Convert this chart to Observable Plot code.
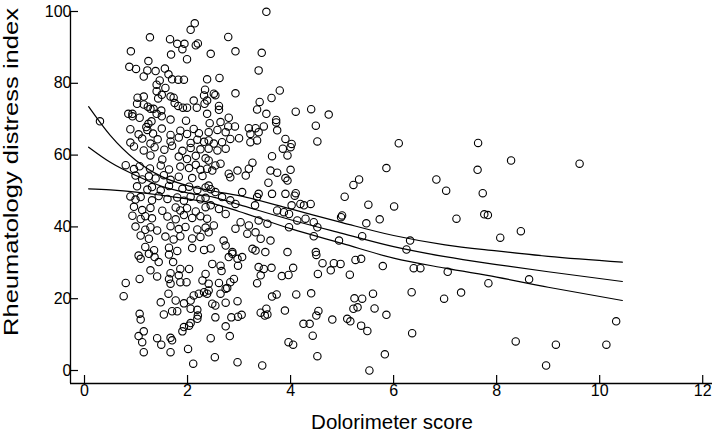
<!DOCTYPE html>
<html><head><meta charset="utf-8">
<script src="https://cdn.jsdelivr.net/npm/d3@7"></script>
<script src="https://cdn.jsdelivr.net/npm/@observablehq/plot@0.6"></script>
<style>body{margin:0;background:#fff} #chart svg{display:block}</style>
</head><body><div id="chart"></div>
<script>
// Dolorimeter score (x) and Rheumatology distress index (y)
const dolorimeter = [
 2.14,2.06,1.27,1.66,1.80,1.94,1.90,2.16,2.20,0.90,
 1.68,2.45,1.99,1.24,0.87,1.00,1.22,1.38,1.56,1.15,
 1.63,1.70,1.82,1.93,1.46,1.40,1.57,2.38,1.40,1.50,
 1.43,1.67,1.73,1.75,1.82,2.34,2.32,2.38,2.33,1.03,
 1.15,1.02,1.15,1.23,1.28,2.12,1.91,1.99,2.18,0.85,
 0.93,0.93,1.07,1.34,1.40,1.49,1.50,1.30,1.24,1.20,
 1.67,1.97,2.38,0.30,
 3.53,2.79,2.93,3.44,3.38,2.62,2.51,2.54,2.93,3.79,
 3.63,3.40,3.35,3.53,2.61,2.61,4.10,4.40,4.74,4.49,
 3.72,3.72,2.80,2.64,2.79,2.92,3.19,3.32,3.48,2.43,
 2.58,
 0.89,1.05,1.22,1.33,1.50,1.67,1.86,1.99,2.12,2.22,
 0.89,1.12,1.28,1.42,1.67,1.83,2.06,2.19,2.32,
 0.96,1.15,1.36,1.55,1.70,1.90,2.06,2.25,
 1.28,1.51,1.83,1.99,2.16,2.35,
 0.80,0.96,1.07,1.27,1.48,1.64,1.86,2.03,2.16,2.25,
 0.99,1.12,1.25,1.38,1.54,1.67,1.83,2.09,2.29,
 1.02,1.22,1.31,1.48,1.64,1.90,2.03,2.19,2.35,2.45,
 0.89,0.99,1.09,1.31,1.44,1.61,1.80,1.93,2.06,2.25,2.35,
 0.96,1.12,1.28,1.51,1.77,1.86,1.99,2.16,2.35,
 0.93,1.09,1.18,1.31,1.61,1.77,1.93,2.09,2.25,2.38,
 0.99,1.18,1.28,1.41,1.67,1.83,1.96,2.19,2.35,
 1.09,1.25,1.57,1.73,1.86,2.09,2.25,
 1.18,1.35,1.64,1.80,2.09,2.32,2.45,
 2.41,2.74,2.41,2.51,2.67,2.41,2.58,2.74,2.83,3.00,
 3.22,3.38,3.35,3.22,3.74,3.90,4.02,4.00,3.85,3.94,
 4.52,3.64,3.26,3.19,3.13,3.61,3.74,4.00,3.90,3.94,
 3.57,2.41,2.54,2.38,2.48,2.64,2.80,2.97,2.83,3.38,
 3.35,3.64,3.90,4.10,4.08,3.06,2.93,3.31,4.02,4.19,
 4.26,4.39,3.74,3.87,3.97,4.29,4.45,4.52,5.00,3.97,
 4.13,3.38,3.55,3.19,3.03,2.93,3.16,3.32,3.42,3.61,
 4.45,4.94,3.26,3.32,3.94,4.49,2.41,2.51,2.70,2.74,
 2.87,2.61,2.74,2.41,2.54,2.67,2.83,2.45,
 0.80,0.76,1.07,1.05,1.09,1.25,1.36,1.44,1.28,1.41,
 1.64,1.72,1.67,1.64,1.67,1.83,1.86,1.98,2.03,1.86,
 2.35,2.29,2.41,1.63,1.48,1.77,1.93,2.06,2.12,2.22,
 2.32,2.41,1.54,1.70,1.80,2.06,2.19,2.20,2.19,2.06,
 1.07,1.09,1.15,1.05,1.12,1.15,1.41,1.49,1.67,1.70,
 1.67,1.90,1.93,2.03,2.01,2.11,2.45,
 2.48,2.64,2.66,2.80,2.97,3.06,2.98,2.87,3.51,3.38,
 3.42,3.48,3.63,3.83,3.96,4.05,4.50,4.62,4.53,4.78,
 4.84,4.97,3.35,2.61,2.74,2.90,2.83,2.77,2.38,2.48,
 2.54,2.64,2.74,2.97,3.64,3.73,4.11,4.40,3.42,3.53,
 3.50,3.55,3.89,2.85,2.98,3.05,2.54,2.74,2.82,4.25,
 4.37,4.43,4.54,4.50,4.81,3.96,4.05,2.53,2.97,3.45,
 4.52,
 6.10,7.64,8.28,5.86,7.63,5.33,5.22,6.83,7.02,7.73,
 5.05,5.51,6.01,7.76,7.83,4.98,5.73,7.22,5.47,5.39,
 8.47,8.07,6.32,6.25,5.26,5.37,5.79,5.15,6.39,6.52,
 7.05,7.84,6.35,7.31,5.24,5.39,5.60,6.98,5.22,5.30,
 5.63,5.86,5.10,5.16,5.37,5.49,6.36,8.37,5.83,5.53,
 9.61,8.63,10.32,9.15,10.13,8.96
];
const rdi = [
 96.7,94.9,92.8,92.3,91.0,91.0,89.5,90.6,91.1,88.9,
 88.0,88.2,86.7,86.2,84.6,84.0,83.6,83.4,84.1,81.9,
 82.5,81.1,81.0,81.0,80.8,79.6,78.7,81.1,77.8,76.8,
 75.8,76.3,76.0,74.5,73.7,78.2,76.6,75.2,74.3,76.0,
 76.3,74.3,74.1,73.5,72.9,75.2,73.2,73.2,73.2,71.5,
 71.5,70.8,70.4,72.9,71.5,72.4,70.8,69.4,68.7,67.8,
 69.9,69.6,71.5,69.4,
 99.9,92.9,88.9,88.5,83.6,81.5,77.1,76.7,77.2,78.0,
 75.9,74.8,72.7,71.5,73.7,72.6,72.1,72.8,71.3,68.2,
 69.8,69.1,70.4,69.2,68.0,68.0,67.5,67.5,68.0,68.9,
 67.0,
 67.2,65.8,67.0,66.0,67.4,65.6,66.8,65.9,67.3,66.1,
 63.5,64.6,63.2,64.4,63.8,64.9,63.4,64.3,63.7,
 62.4,61.3,62.2,61.5,62.6,61.2,62.0,61.6,
 59.9,58.8,59.6,58.9,59.8,59.1,
 57.2,56.1,56.9,56.3,57.1,56.0,56.8,56.4,57.3,55.9,
 54.3,53.2,54.1,53.5,54.4,53.1,54.0,53.6,54.2,
 51.3,50.4,51.1,50.2,51.4,50.6,51.2,50.3,51.0,50.5,
 48.5,47.6,48.3,47.4,48.6,47.8,48.2,47.3,48.4,47.7,48.1,
 45.6,44.7,45.3,44.5,45.4,44.6,45.2,44.3,45.5,
 43.1,42.2,43.0,42.4,42.9,42.1,43.3,42.5,43.0,42.3,
 40.1,39.2,39.9,39.0,40.2,39.4,40.0,39.3,39.8,
 37.6,36.7,37.3,36.5,37.4,36.8,37.2,
 34.4,33.5,34.2,33.3,34.1,33.6,34.0,
 66.4,66.4,64.1,63.2,63.6,61.8,61.3,61.8,64.5,64.7,
 65.9,66.4,64.1,63.6,66.9,64.5,63.1,62.2,61.8,59.9,
 63.8,59.7,57.9,56.2,54.3,55.7,55.1,55.9,53.6,52.9,
 52.3,58.5,57.1,56.2,55.7,57.6,54.8,55.7,53.8,49.2,
 48.3,49.2,49.2,49.4,48.7,49.7,46.4,46.0,46.0,46.4,
 46.0,46.4,44.6,44.1,43.6,42.3,41.3,39.9,43.2,39.9,
 41.8,41.8,40.9,40.4,41.3,39.5,38.1,38.5,36.7,36.2,
 37.4,36.2,33.9,33.4,33.0,33.0,38.5,40.4,36.2,34.8,
 33.0,45.0,43.6,51.5,49.7,48.3,47.4,46.0,
 24.4,20.7,25.5,32.0,31.1,32.5,31.6,30.2,27.9,26.2,
 32.3,30.2,27.1,25.5,24.2,26.5,24.6,24.6,28.3,28.3,
 26.9,25.1,24.2,21.4,19.0,19.5,18.7,19.5,20.9,21.4,
 21.8,22.3,15.6,16.5,16.5,17.2,16.9,15.3,14.4,13.2,
 15.8,14.2,10.9,9.6,7.9,5.1,9.0,7.2,9.1,8.4,
 5.1,10.9,12.1,12.5,6.0,1.9,9.0,
 29.7,29.2,27.7,31.6,31.1,31.6,29.2,32.5,33.0,28.8,
 26.5,28.3,28.6,26.3,26.6,28.6,32.2,29.9,26.9,27.9,
 29.9,29.7,24.3,24.4,22.8,25.5,24.6,23.0,21.4,18.6,
 18.1,21.4,18.9,19.3,20.6,21.2,21.2,21.5,16.1,17.2,
 15.3,15.6,16.7,14.8,15.0,15.5,14.8,12.3,9.6,13.0,
 13.0,9.7,16.6,15.3,14.2,7.9,7.2,3.7,2.3,1.4,
 4.0,
 63.3,63.4,58.5,56.4,55.9,53.2,51.7,53.2,50.1,49.4,
 48.4,46.2,45.7,43.5,43.3,42.7,42.1,42.3,41.0,37.4,
 38.8,37.0,36.2,33.7,30.8,31.1,29.1,26.7,28.5,28.5,
 27.5,24.3,21.8,21.7,20.1,20.0,21.4,20.0,17.2,17.6,
 17.3,15.5,14.4,13.7,12.5,11.0,10.4,8.1,4.5,0.0,
 57.6,25.4,13.7,7.2,7.2,1.4
];

// Fitted curve with its two bounding curves
const curveX     = [0.08, 0.5, 1, 1.5, 2, 2.5, 3, 4, 5, 6, 7, 8, 9, 10.44];
const curveUpper = [73.5, 65.5, 58.5, 54, 51.5, 50, 48.7, 45, 41.2, 37.6, 35, 33.3, 31.8, 30.2];
const curveFit   = [62.2, 58, 54.3, 51.3, 49.5, 48.3, 46.2, 42, 38.2, 34.5, 31.7, 29.5, 27.5, 24.8];
const curveLower = [50.6, 50.3, 49.7, 48.8, 47.8, 46.5, 44.3, 39.5, 35.4, 31.3, 28.5, 26, 23.2, 19.5];

const xTicks = [0, 2, 4, 6, 8, 10, 12];
const yTicks = [0, 20, 40, 60, 80, 100];
const xTitle = "Dolorimeter score";
const yTitle = "Rheumatology distress index";

const points = dolorimeter.map((x, i) => ({x, y: rdi[i]}));
const curves = curveX.flatMap((x, i) => [
  {x, y: curveUpper[i], band: "upper"},
  {x, y: curveFit[i], band: "fit"},
  {x, y: curveLower[i], band: "lower"}
]);

const xDomain = [-0.272, 12.19];
const yDomain = [-3.62, 100];

const chart = Plot.plot({
  width: 720, height: 432,
  marginLeft: 70, marginRight: 8, marginTop: 11, marginBottom: 49,
  style: {fontFamily: "'Liberation Sans', Arial, sans-serif", fontSize: "16px", color: "#000", background: "#fff"},
  x: {domain: xDomain},
  y: {domain: yDomain},
  marks: [
    Plot.ruleX([xDomain[0]], {stroke: "#000", strokeWidth: 1.3}),
    Plot.ruleY([yDomain[0]], {stroke: "#000", strokeWidth: 1.3}),
    Plot.axisX({ticks: xTicks, tickSize: -8, tickPadding: 9, label: null, fontSize: 16, strokeWidth: 1.2}),
    Plot.axisY({ticks: yTicks, tickSize: -8, tickPadding: 7, label: null, fontSize: 16, strokeWidth: 1.2}),
    Plot.line(curves, {x: "x", y: "y", z: "band", stroke: "#000", strokeWidth: 1.2, curve: "monotone-x"}),
    Plot.dot(points, {x: "x", y: "y", r: 3.7, stroke: "#000", strokeWidth: 1.1, fill: "none"})
  ]
});

const svg = d3.select(chart);
svg.append("text")
  .attr("x", 392).attr("y", 429)
  .attr("text-anchor", "middle")
  .attr("font-size", 20.5)
  .attr("fill", "#000")
  .text(xTitle);
svg.append("text")
  .attr("transform", "translate(18,172) rotate(-90)")
  .attr("text-anchor", "middle")
  .attr("font-size", 20)
  .attr("fill", "#000")
  .attr("textLength", 328)
  .attr("lengthAdjust", "spacingAndGlyphs")
  .text(yTitle);

document.getElementById("chart").appendChild(chart);
</script>
</body></html>
